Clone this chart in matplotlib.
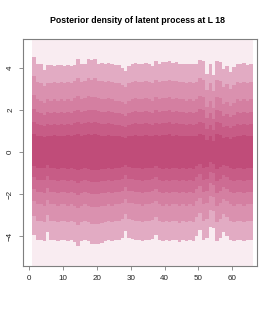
import matplotlib
matplotlib.use("Agg")
import matplotlib.pyplot as plt
import numpy as np

TITLE = "Posterior density of latent process at L 18"

# column index (left edge of each step), 65 columns
columns = list(range(1, 66))

# quantile boundaries per column, outer -> inner
upper_1 = [4.5, 4.2, 4.2, 3.9, 4.15, 4.15, 4.1, 4.15, 4.15, 4.1, 4.15, 4.1, 4.15, 4.45, 4.2, 4.2, 4.45, 4.4, 4.45, 4.2,
           4.25, 4.2, 4.25, 4.2, 4.15, 4.15, 4.0, 3.85, 4.1, 4.2, 4.25, 4.2, 4.2, 4.25, 4.2, 4.1, 4.35, 4.2, 4.3, 4.3,
           4.35, 4.25, 4.3, 4.2, 4.2, 4.2, 4.2, 4.2, 4.2, 4.4, 4.35, 3.7, 4.2, 3.65, 4.35, 4.3, 3.95, 4.1, 3.8, 4.05,
           4.2, 4.2, 4.25, 4.15, 4.2]
upper_2 = [3.6, 3.35, 3.3, 3.15, 3.3, 3.3, 3.35, 3.3, 3.35, 3.3, 3.35, 3.3, 3.4, 3.5, 3.35, 3.4, 3.5, 3.45, 3.5, 3.4,
           3.4, 3.35, 3.4, 3.35, 3.3, 3.3, 3.2, 3.1, 3.3, 3.35, 3.4, 3.35, 3.35, 3.4, 3.35, 3.3, 3.45, 3.35, 3.4, 3.4,
           3.45, 3.4, 3.4, 3.35, 3.35, 3.3, 3.35, 3.3, 3.35, 3.5, 3.45, 2.95, 3.3, 2.9, 3.45, 3.4, 3.1, 3.25, 3.0, 3.2,
           3.35, 3.3, 3.35, 3.3, 3.35]
upper_3 = [2.7, 2.5, 2.45, 2.35, 2.5, 2.45, 2.5, 2.45, 2.5, 2.45, 2.5, 2.45, 2.55, 2.65, 2.5, 2.55, 2.65, 2.6, 2.6, 2.55,
           2.5, 2.5, 2.55, 2.5, 2.45, 2.45, 2.4, 2.3, 2.45, 2.5, 2.55, 2.5, 2.5, 2.55, 2.5, 2.45, 2.6, 2.5, 2.55, 2.55,
           2.6, 2.5, 2.55, 2.5, 2.5, 2.45, 2.5, 2.45, 2.5, 2.65, 2.6, 2.15, 2.45, 2.1, 2.6, 2.55, 2.3, 2.4, 2.2, 2.35,
           2.5, 2.45, 2.5, 2.45, 2.5]
upper_4 = [2.05, 1.9, 1.85, 1.75, 1.9, 1.85, 1.9, 1.85, 1.9, 1.85, 1.9, 1.85, 1.95, 2.0, 1.9, 1.95, 2.0, 2.0, 2.0, 1.95,
           1.9, 1.9, 1.95, 1.9, 1.85, 1.85, 1.8, 1.7, 1.85, 1.9, 1.95, 1.9, 1.9, 1.95, 1.9, 1.85, 2.0, 1.9, 1.95, 1.95,
           2.0, 1.9, 1.95, 1.9, 1.9, 1.85, 1.9, 1.85, 1.9, 2.05, 2.0, 1.6, 1.85, 1.55, 2.0, 1.95, 1.7, 1.8, 1.65, 1.75,
           1.9, 1.85, 1.9, 1.85, 1.9]
upper_5 = [1.45, 1.35, 1.3, 1.25, 1.35, 1.3, 1.35, 1.3, 1.35, 1.3, 1.35, 1.3, 1.4, 1.45, 1.35, 1.4, 1.45, 1.4, 1.45, 1.4,
           1.35, 1.35, 1.4, 1.35, 1.3, 1.3, 1.25, 1.2, 1.3, 1.35, 1.4, 1.35, 1.35, 1.4, 1.35, 1.3, 1.4, 1.35, 1.4, 1.4,
           1.45, 1.35, 1.4, 1.35, 1.35, 1.3, 1.35, 1.3, 1.35, 1.45, 1.4, 1.1, 1.3, 1.05, 1.45, 1.4, 1.2, 1.25, 1.15, 1.25,
           1.35, 1.3, 1.35, 1.3, 1.35]
upper_6 = [0.85, 0.75, 0.75, 0.7, 0.75, 0.75, 0.8, 0.75, 0.75, 0.75, 0.8, 0.75, 0.8, 0.85, 0.75, 0.8, 0.85, 0.8, 0.85, 0.8,
           0.75, 0.75, 0.8, 0.75, 0.75, 0.75, 0.7, 0.65, 0.75, 0.75, 0.8, 0.75, 0.75, 0.8, 0.75, 0.75, 0.8, 0.75, 0.8, 0.8,
           0.85, 0.75, 0.8, 0.75, 0.75, 0.75, 0.75, 0.75, 0.75, 0.85, 0.8, 0.55, 0.75, 0.5, 0.85, 0.8, 0.65, 0.7, 0.6, 0.7,
           0.75, 0.75, 0.8, 0.75, 0.75]
lower_6 = [-0.65, -0.75, -0.75, -0.75, -0.6, -0.75, -0.75, -0.8, -0.75, -0.75, -0.8, -0.75, -0.8, -0.85, -0.8, -0.75,
           -0.8, -0.85, -0.85, -0.85, -0.8, -0.8, -0.75, -0.8, -0.75, -0.75, -0.7, -0.6, -0.7, -0.75, -0.75, -0.75, -0.8,
           -0.75, -0.75, -0.75, -0.65, -0.75, -0.8, -0.75, -0.8, -0.75, -0.75, -0.8, -0.75, -0.8, -0.75, -0.8, -0.65,
           -0.55, -0.75, -0.7, -0.5, -0.55, -0.8, -0.7, -0.6, -0.65, -0.75, -0.8, -0.75, -0.75, -0.8, -0.75, -0.75]
lower_5 = [-1.2, -1.35, -1.35, -1.35, -1.15, -1.35, -1.35, -1.4, -1.35, -1.35, -1.4, -1.35, -1.4, -1.5, -1.4, -1.35,
           -1.4, -1.45, -1.45, -1.45, -1.4, -1.4, -1.35, -1.4, -1.35, -1.35, -1.3, -1.1, -1.3, -1.3, -1.35, -1.35, -1.4,
           -1.35, -1.35, -1.3, -1.2, -1.35, -1.4, -1.35, -1.4, -1.35, -1.35, -1.4, -1.35, -1.4, -1.35, -1.4, -1.2,
           -1.05, -1.35, -1.3, -0.95, -1.0, -1.4, -1.3, -1.1, -1.2, -1.35, -1.4, -1.35, -1.35, -1.4, -1.35, -1.35]
lower_4 = [-1.75, -1.9, -1.9, -1.95, -1.7, -1.9, -1.9, -1.95, -1.9, -1.9, -1.95, -1.9, -1.95, -2.05, -1.95, -1.9,
           -1.95, -2.0, -2.0, -2.0, -1.95, -1.95, -1.9, -1.95, -1.9, -1.9, -1.85, -1.65, -1.85, -1.85, -1.9, -1.9, -1.95,
           -1.9, -1.9, -1.85, -1.75, -1.9, -1.95, -1.9, -1.95, -1.9, -1.9, -1.95, -1.9, -1.95, -1.9, -1.95, -1.75,
           -1.6, -1.9, -1.85, -1.5, -1.55, -1.95, -1.85, -1.65, -1.75, -1.9, -1.95, -1.9, -1.9, -1.95, -1.9, -1.9]
lower_3 = [-2.35, -2.5, -2.5, -2.55, -2.3, -2.5, -2.5, -2.55, -2.5, -2.5, -2.55, -2.5, -2.55, -2.65, -2.55, -2.5,
           -2.55, -2.6, -2.6, -2.6, -2.55, -2.55, -2.5, -2.55, -2.5, -2.5, -2.45, -2.25, -2.45, -2.45, -2.5, -2.5, -2.55,
           -2.5, -2.5, -2.45, -2.35, -2.5, -2.55, -2.5, -2.55, -2.5, -2.5, -2.55, -2.5, -2.55, -2.5, -2.55, -2.35,
           -2.2, -2.5, -2.45, -2.1, -2.15, -2.55, -2.45, -2.25, -2.35, -2.5, -2.55, -2.5, -2.5, -2.55, -2.5, -2.5]
lower_2 = [-3.05, -3.3, -3.3, -3.35, -3.0, -3.3, -3.3, -3.35, -3.3, -3.3, -3.35, -3.3, -3.35, -3.5, -3.35, -3.3,
           -3.35, -3.45, -3.45, -3.45, -3.4, -3.35, -3.3, -3.35, -3.3, -3.3, -3.2, -2.95, -3.2, -3.25, -3.3, -3.3, -3.35,
           -3.3, -3.3, -3.25, -3.1, -3.3, -3.35, -3.3, -3.35, -3.3, -3.3, -3.4, -3.3, -3.35, -3.3, -3.35, -3.1,
           -2.9, -3.3, -3.2, -2.75, -2.8, -3.35, -3.2, -2.95, -3.1, -3.3, -3.35, -3.3, -3.3, -3.35, -3.3, -3.3]
lower_1 = [-3.95, -4.2, -4.2, -4.25, -3.8, -4.2, -4.2, -4.25, -4.2, -4.2, -4.25, -4.2, -4.3, -4.5, -4.25, -4.2,
           -4.25, -4.4, -4.4, -4.4, -4.35, -4.25, -4.2, -4.25, -4.2, -4.2, -4.1, -3.75, -4.1, -4.15, -4.2, -4.2, -4.25,
           -4.2, -4.2, -4.15, -3.95, -4.2, -4.25, -4.2, -4.25, -4.2, -4.2, -4.3, -4.2, -4.25, -4.2, -4.25, -4.0,
           -3.7, -4.2, -4.1, -3.55, -3.6, -4.25, -4.1, -3.8, -4.0, -4.2, -4.25, -4.2, -4.2, -4.25, -4.2, -4.2]

# full sample range runs past the plot limits
sample_max = 6.0
sample_min = -6.0

band_colors = ["#F9ECF1", "#E2ABC3", "#DA91AF", "#D47FA1", "#CD6C93", "#C75C86", "#C04C79"]

X_TICKS = [0, 10, 20, 30, 40, 50, 60]
Y_TICKS = [-4, -2, 0, 2, 4]
AXIS_GREY = "#7f7f7f"


def main() -> None:
    plt.rcParams["font.family"] = ["Liberation Sans", "DejaVu Sans"]
    fig = plt.figure(figsize=(2.75, 3.14), dpi=100)
    ax = fig.add_axes([0.0836, 0.1529, 0.8509, 0.7229])

    n = len(columns)
    bands = [
        ([sample_min] * n, [sample_max] * n),
        (lower_1, upper_1),
        (lower_2, upper_2),
        (lower_3, upper_3),
        (lower_4, upper_4),
        (lower_5, upper_5),
        (lower_6, upper_6),
    ]
    for (low, high), color in zip(bands, band_colors):
        low = np.asarray(low)
        high = np.asarray(high)
        ax.bar(columns, high - low, bottom=low, width=1.0, align="edge",
               color=color, linewidth=0, antialiased=False)

    ax.set_xlim(-1.8, 67.3)
    ax.set_ylim(-5.43, 5.38)
    ax.set_xticks(X_TICKS)
    ax.set_yticks(Y_TICKS)
    ax.tick_params(direction="out", length=2.6, width=0.6, color=AXIS_GREY,
                   labelsize=5.8, labelcolor="#222222", pad=3.8)
    for label in ax.get_yticklabels():
        label.set_rotation(90)
        label.set_va("center")
    for spine in ax.spines.values():
        spine.set_color(AXIS_GREY)
        spine.set_linewidth(0.8)

    fig.text(0.5, 0.934, TITLE, ha="center", va="center", fontsize=6.3, fontweight="bold")
    fig.savefig("out.png", dpi=100)
    plt.close(fig)


if __name__ == "__main__":
    main()
